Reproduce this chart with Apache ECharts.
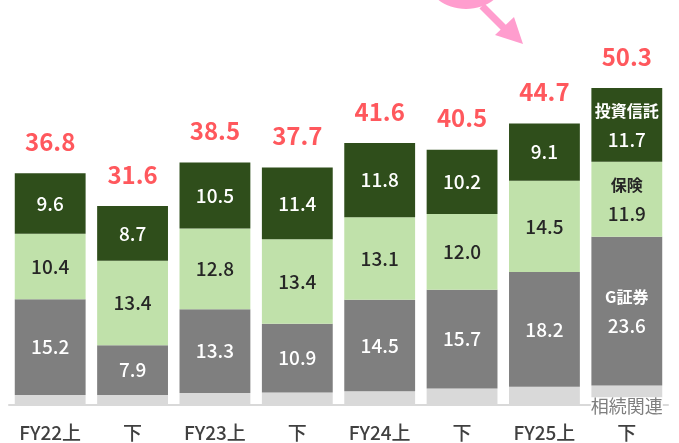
<!DOCTYPE html>
<html>
<head>
<meta charset="utf-8">
<script src="https://cdn.jsdelivr.net/npm/echarts@6/dist/echarts.min.js"></script>
<style>
  html, body { margin: 0; padding: 0; background: #fff; }
  #chart { width: 679px; height: 443px; }
</style>
</head>
<body>
<div id="chart"></div>
<script>
const categories = ['FY22上', '下', 'FY23上', '下', 'FY24上', '下', 'FY25上', '下'];
const seriesNames = ['相続関連', 'G証券', '保険', '投資信託'];
const souzoku = [1.6, 1.6, 1.9, 2.0, 2.2, 2.6, 2.9, 3.1];
const gShoken = [15.2, 7.9, 13.3, 10.9, 14.5, 15.7, 18.2, 23.6];
const hoken = [10.4, 13.4, 12.8, 13.4, 13.1, 12.0, 14.5, 11.9];
const toushin = [9.6, 8.7, 10.5, 11.4, 11.8, 10.2, 9.1, 11.7];
const totals = [36.8, 31.6, 38.5, 37.7, 41.6, 40.5, 44.7, 50.3];

const FONT = '"Noto Sans CJK JP", "Noto Sans", sans-serif';
const lastIdx = categories.length - 1;

// 中のラベル（最後の棒だけ系列名を付ける）
function segLabel(color, name) {
  return {
    show: true,
    position: 'inside',
    color: color,
    fontFamily: FONT,
    fontSize: 19,
    fontWeight: 500,
    lineHeight: 29,
    formatter: (p) => (p.dataIndex === lastIdx ? '{n|' + name + '}\n' + p.value.toFixed(1) : p.value.toFixed(1)),
    rich: {
      n: { color: color, fontFamily: FONT, fontSize: 16, fontWeight: 'bold', lineHeight: 29 }
    }
  };
}

const chart = echarts.init(document.getElementById('chart'));
chart.setOption({
  animation: false,
  grid: { left: 9, right: 11, top: 27, bottom: 38 },
  xAxis: {
    type: 'category',
    data: categories,
    axisTick: { show: false },
    axisLine: { lineStyle: { color: '#D9D9D9', width: 2 } },
    axisLabel: { color: '#404040', fontFamily: FONT, fontSize: 19, fontWeight: 500, margin: 18 }
  },
  yAxis: { type: 'value', min: 0, max: 60, show: false },
  graphic: [
    { type: 'ellipse', shape: { cx: 466, cy: -20, rx: 38, ry: 29 }, style: { fill: '#FF9DCE' } },
    { type: 'line', shape: { x1: 482, y1: 6, x2: 510, y2: 34 }, style: { stroke: '#FF9DCE', lineWidth: 7 } },
    { type: 'polygon', shape: { points: [[523, 44], [495, 35], [514, 17]] }, style: { fill: '#FF9DCE' } }
  ],
  series: [
    {
      name: seriesNames[0], type: 'bar', stack: 'a', data: souzoku,
      barCategoryGap: '14%',
      itemStyle: { color: '#D9D9D9' },
      label: {
        show: true,
        position: 'inside',
        offset: [0, 11],
        color: '#7F7F7F',
        fontFamily: FONT,
        fontSize: 18,
        backgroundColor: '#fff',
        formatter: (p) => (p.dataIndex === lastIdx ? seriesNames[0] : '')
      }
    },
    { name: seriesNames[1], type: 'bar', stack: 'a', data: gShoken, itemStyle: { color: '#7F7F7F' }, label: segLabel('#FFFFFF', seriesNames[1]) },
    { name: seriesNames[2], type: 'bar', stack: 'a', data: hoken, itemStyle: { color: '#C0E1AA' }, label: segLabel('#262626', seriesNames[2]) },
    { name: seriesNames[3], type: 'bar', stack: 'a', data: toushin, itemStyle: { color: '#2F4E1B' }, label: segLabel('#FFFFFF', seriesNames[3]) },
    {
      name: '合計', type: 'line', data: totals,
      symbol: 'circle',
      symbolSize: 1,
      showSymbol: true,
      itemStyle: { color: 'rgba(0,0,0,0)' },
      lineStyle: { opacity: 0 },
      z: 10,
      label: {
        show: true,
        position: 'top',
        distance: 19,
        color: '#FF585D',
        fontFamily: FONT,
        fontSize: 24,
        fontWeight: 'bold',
        formatter: (p) => p.value.toFixed(1)
      }
    }
  ]
});
</script>
</body>
</html>
